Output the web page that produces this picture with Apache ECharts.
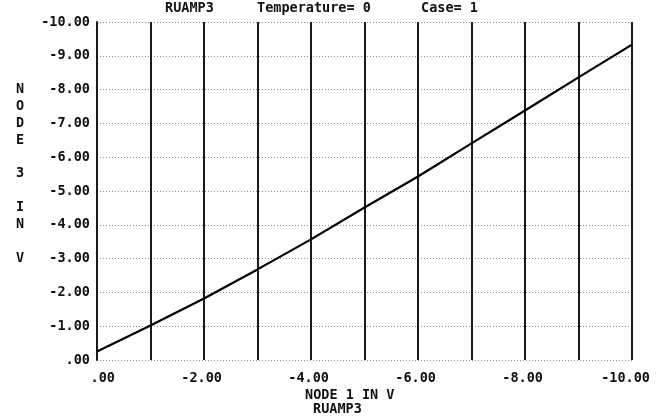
<!DOCTYPE html>
<html><head><meta charset="utf-8">
<script src="https://cdn.jsdelivr.net/npm/echarts@6/dist/echarts.min.js"></script>
<style>html,body{margin:0;padding:0;background:#fff}#c{width:658px;height:416px}</style>
</head><body><div id="c"></div>
<script>
const node1 = [0, -1, -2, -3, -4, -5, -6, -7, -8, -9, -10];
const node3 = [-0.25, -1.02, -1.82, -2.68, -3.57, -4.51, -5.43, -6.41, -7.38, -8.36, -9.33];
const titleParts = ["RUAMP3", "Temperature= 0", "Case= 1"];
const xName = "NODE 1 IN V";
const xSub = "RUAMP3";
const yName = "NODE 3 IN V";

const FONT = '"DejaVu Sans Mono", "Liberation Mono", monospace';
function fmt(v){ let s = Math.abs(v).toFixed(2); if (s.startsWith('0')) s = s.slice(1); return (v < 0 ? '-' : '') + s; }

const chart = echarts.init(document.getElementById('c'), null, {renderer:'canvas'});
const FS = 13.5;
const txt = {fontFamily: FONT, fontWeight: 'bold', fontSize: FS, fill: '#111'};
chart.setOption({
  animation: false,
  grid: {left: 97, right: 26, top: 22, bottom: 56},
  xAxis: {
    type: 'value', min: -10, max: 0, interval: 1, inverse: true,
    axisLine: {show: false}, axisTick: {show: false},
    splitLine: {show: true, lineStyle: {color: '#1a1a1a', width: 2, type: 'solid'}},
    axisLabel: {
      margin: 11, align: 'right', padding: [0, -18, 0, 0],
      fontFamily: FONT, fontWeight: 'bold', fontSize: FS, color: '#111',
      formatter: v => (Math.round(v) % 2 === 0 ? fmt(v) : '')
    }
  },
  yAxis: {
    type: 'value', min: -10, max: 0, interval: 1, inverse: true,
    axisLine: {show: true, lineStyle: {color: '#1a1a1a', width: 2}}, axisTick: {show: false},
    splitLine: {show: true, lineStyle: {color: '#8a8a8a', width: 1, type: [1, 2]}},
    axisLabel: {margin: 7, fontFamily: FONT, fontWeight: 'bold', fontSize: FS, color: '#111', formatter: v => fmt(v)}
  },
  series: [{
    type: 'line', data: node1.map((x, i) => [x, node3[i]]),
    showSymbol: false, lineStyle: {color: '#000', width: 2.2}
  }],
  graphic: [
    {type: 'text', left: 165, top: 1, style: Object.assign({text: titleParts[0]}, txt)},
    {type: 'text', left: 257, top: 1, style: Object.assign({text: titleParts[1]}, txt)},
    {type: 'text', left: 421, top: 1, style: Object.assign({text: titleParts[2]}, txt)},
    {type: 'text', left: 305, top: 388, style: Object.assign({text: xName}, txt)},
    {type: 'text', left: 313, top: 402, style: Object.assign({text: xSub}, txt)},
    {type: 'text', x: 20, y: 81, style: Object.assign({text: yName.split('').join('\n'), align: 'center', lineHeight: 16.9}, txt)}
  ]
});
</script></body></html>
